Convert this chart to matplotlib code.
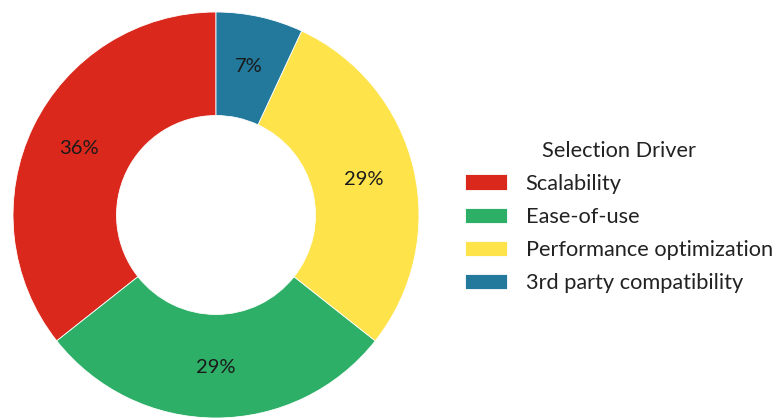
import matplotlib.pyplot as plt

labels = ['Scalability', 'Ease-of-use', 'Performance optimization', '3rd party compatibility']
values = [36, 29, 29, 7]
colors = ['#DA291C', '#2EAF68', '#FEE34A', '#22799C']

plt.rcParams['font.family'] = ['Lato', 'DejaVu Sans']

fig = plt.figure(figsize=(7.8, 4.18), dpi=100)
ax = fig.add_axes([13 / 780, 0.0, 406 / 780, 406 / 418])

wedges, texts, autotexts = ax.pie(
    values, colors=colors, startangle=90, counterclock=True,
    autopct='%1.0f%%', pctdistance=0.75,
    wedgeprops=dict(width=0.51, edgecolor='white', linewidth=0.6),
    textprops=dict(fontsize=14.5, color='#1a1a1a'))
ax.set_xlim(-1, 1)
ax.set_ylim(-1, 1)
ax.set_aspect('equal')

leg = fig.legend(wedges, labels, title='Selection Driver', loc='upper left',
                 bbox_to_anchor=(445 / 780, 1 - 121 / 418), frameon=False,
                 fontsize=15.7, title_fontsize=15.7, handlelength=1.95,
                 handleheight=0.7, labelspacing=0.6, handletextpad=0.85)
for t in leg.get_texts():
    t.set_color('#222222')
leg.get_title().set_color('#222222')

fig.savefig('out.png', dpi=100)
